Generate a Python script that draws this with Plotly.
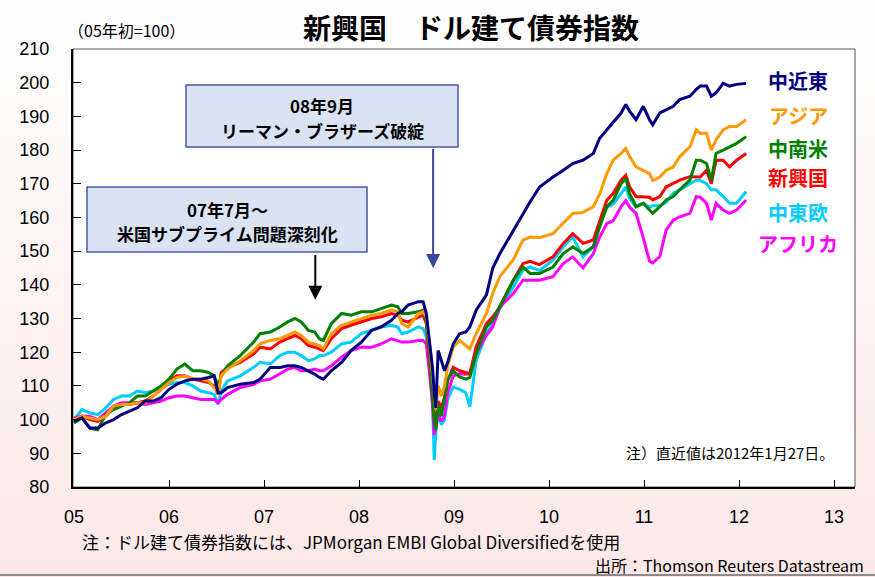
import numpy as np
import plotly.graph_objects as go

# Sample dates, as months elapsed since the start of 2005
MONTHS = [0, 1, 2, 3, 4, 5, 6, 7, 8, 9, 10, 11, 12, 13, 14, 15, 16, 17, 17.7, 18.2,
          18.6, 19.4, 21, 22.7, 23.5, 24.8, 26, 27, 27.9, 28.7, 29.6, 30.4, 31, 31.5,
          32.5, 33.8, 35, 36.3, 37.6, 38.8, 40.1, 40.9, 41.4, 42.2, 43.5, 44.1, 44.5,
          44.9, 45.3, 45.5, 45.7, 46, 46.4, 46.8, 47.2, 47.9, 48.7, 49.5, 50, 50.8,
          52.1, 52.9, 53.8, 55.5, 56.7, 57.6, 58.8, 60.5, 61.8, 63, 64.3, 65.6, 66.4,
          67.3, 68.1, 69.1, 69.7, 70.2, 71, 71.9, 72.7, 73.1, 74, 74.8, 75.7, 76.5,
          77.8, 78.6, 79.1, 79.9, 80.5, 81.1, 82, 82.8, 83.7, 84.9]

MIDDLE_EAST = [99.5, 100.5, 97.5, 97.5, 99, 100, 101.5, 102.5, 103.5, 105.5, 105.5, 106.5,
               109, 110.5, 111.5, 112, 112, 112.5, 113, 108, 108, 109.5, 110.5, 111, 112,
               115.5, 115.5, 116, 116, 115.5, 114.5, 113.5, 112.5, 112, 114.5, 117, 120.5,
               123, 126.5, 127.5, 129.5, 131.5, 132, 134, 135, 135, 131.5, 123, 115, 108,
               103.5, 120.5, 117.5, 114.5, 117, 122.5, 125.5, 126, 127.5, 132.5, 137, 145,
               149.3, 156.2, 161.2, 164.6, 169, 172, 174, 176, 177, 179, 183.5, 186, 188, 191,
               193.5, 191.5, 189, 193, 189, 187.5, 191, 192, 193, 195, 196, 198, 199, 199,
               196, 197, 199.8, 199, 199.5, 199.8]

ASIA = [100, 101, 100.5, 100, 101, 104, 104.5, 104.5, 105, 105, 107, 109, 111, 112.5, 113,
        112, 112, 111.5, 109.5, 108, 113, 115, 117.5, 120.5, 122.5, 123.5, 124, 125, 126,
        125, 123, 122.5, 122, 121, 125.5, 128, 129, 130, 131, 131.5, 132.5, 132, 128.5,
        127.5, 131.5, 132, 130.5, 122.5, 111.5, 106, 103, 110, 107, 110, 116, 121.5, 123.5,
        122, 121, 125.5, 131.5, 137.5, 142.5, 147.5, 153.3, 154.2, 154, 155.2, 158.2, 161.2,
        161.5, 163.2, 167, 173, 177, 179, 180.5, 178, 175, 174, 173, 171, 172, 174, 175,
        178, 181, 186, 185, 185, 180, 183, 186, 187, 187, 189]

LATIN_AMERICA = [99, 100.5, 97.5, 97, 101.5, 103, 104, 105, 107, 107, 108.5, 110, 112, 115,
                 116.5, 114.5, 114.5, 114, 113, 110, 113, 116, 119, 123, 125.5, 126, 127.5,
                 129, 130, 129, 126.5, 126, 124, 123.5, 128.5, 131.5, 131, 132, 132, 133,
                 134, 133.5, 131.5, 131.5, 132, 132.5, 129.5, 120, 107, 100, 97, 104.5, 101,
                 107, 112, 114.5, 112.7, 112, 112.5, 119.6, 127.5, 129.5, 133.5, 141.4, 145.3,
                 143.4, 143.4, 145.3, 149.3, 151.3, 149.3, 151.3, 157.2, 163.2, 165.1, 170,
                 171.5, 167, 163.2, 164.2, 162.2, 161.2, 163.2, 165.2, 166.2, 168.2, 171.1,
                 177, 177, 176, 171, 179, 180, 181, 182, 184]

EMERGING = [100, 101, 100, 99.5, 101, 103.5, 104.5, 104.5, 105, 105.5, 107, 109, 111.5, 113,
            113, 112, 111.5, 111, 110, 107.5, 114, 115.5, 117, 119.5, 121.5, 121, 123, 124,
            125, 124, 122, 121.5, 121, 120.5, 124, 127, 128, 129, 130, 130.5, 131.5, 131,
            129.5, 129, 130.5, 131, 128.5, 118, 106.5, 101, 99, 105.5, 103.5, 106.5, 111.5,
            115.5, 114.5, 114, 113.6, 121.6, 128.5, 130.5, 133.5, 141.4, 146.3, 147, 146,
            148.3, 152.3, 155.2, 152.3, 153.3, 159.2, 165.1, 167.1, 171.1, 172.5, 169, 166.2,
            166, 166, 165.2, 166.2, 169.1, 170.1, 171.1, 172.1, 172, 172, 174, 170, 177, 177,
            175, 177, 179]

CENTRAL_EAST_EUROPE = [100, 103, 102, 101.5, 103.5, 106, 107, 107, 108.5, 108, 108.5, 109.5,
                       110.5, 111, 111, 110, 108.5, 108, 107.5, 104.5, 108.5, 111.5, 113,
                       115.5, 117, 116.5, 119, 120, 120, 119, 117.5, 118, 119, 119, 120,
                       122.5, 123, 125.5, 126.5, 127.5, 128, 127.5, 125.5, 126, 127.5, 127,
                       124.5, 115.5, 104.5, 88, 96, 102.5, 98.5, 100, 106, 109.7, 109, 108,
                       103.8, 117.6, 125.5, 128.5, 133, 139.4, 144.3, 145.3, 144.3, 147.3,
                       151.3, 154.2, 148.3, 151.3, 158, 163, 164, 167.1, 169, 165.5, 163.2,
                       164.2, 163, 163.5, 163.5, 164.5, 167.2, 168.2, 170.1, 171.1, 171, 170,
                       168.2, 168.2, 166.2, 164.2, 164.2, 167.7]

AFRICA = [100.5, 101, 101, 100, 102, 104, 105, 105, 105, 104.5, 105, 105.5, 106.5, 107, 107,
          106.5, 106, 106, 106, 105, 106, 107.5, 109.5, 110.5, 111.5, 112, 113.5, 115, 115.5,
          114.5, 114.5, 115, 114.5, 114.5, 116, 118.5, 120.5, 121.5, 121.5, 122.5, 124,
          123.5, 123, 123, 123.5, 123.5, 122.5, 114.5, 104, 95.5, 97.5, 101.5, 99.5, 101,
          108, 113, 113.6, 113.5, 113.6, 119.6, 125, 127.5, 133.5, 137.4, 141.4, 141.4,
          141.4, 142.4, 146.3, 148.3, 145, 149.3, 154.2, 158.2, 159, 163.2, 165, 163, 161.2,
          154, 147, 146.5, 148.4, 156.3, 159.2, 160.2, 161.2, 166.2, 166, 164.2, 159.2,
          164.2, 162.2, 161.2, 162.2, 165.2]

SERIES_NAMES = ["中近東", "アジア", "中南米", "新興国", "中東欧", "アフリカ"]
SERIES_COLORS = ["#000080", "#ff9900", "#008000", "#ff0000", "#00ccff", "#ff00ff"]
SERIES_VALUES = [MIDDLE_EAST, ASIA, LATIN_AMERICA, EMERGING, CENTRAL_EAST_EUROPE, AFRICA]

YEAR_TICKS = [5, 6, 7, 8, 9, 10, 11, 12, 13]
YEAR_LABELS = ["05", "06", "07", "08", "09", "10", "11", "12", "13"]
Y_TICKS = list(range(80, 211, 10))

JP = "Noto Sans CJK JP"
PLOT_L, PLOT_T, PLOT_W, PLOT_H = 73, 49, 782, 438   # plot frame in page pixels


def px(xp):
    """page x pixel -> paper fraction"""
    return (xp - PLOT_L) / PLOT_W


def py(yp):
    """page y pixel -> paper fraction"""
    return (PLOT_T + PLOT_H - yp) / PLOT_H


x_years = 5 + np.array(MONTHS) / 12.0

fig = go.Figure()

# drawing order: lines further back first
draw_order = [4, 5, 3, 2, 1, 0]
for i in draw_order:
    fig.add_trace(go.Scatter(
        x=x_years, y=SERIES_VALUES[i], mode="lines", name=SERIES_NAMES[i],
        line=dict(color=SERIES_COLORS[i], width=3), showlegend=False,
        hoverinfo="skip"))

shapes = []
# soft white-to-pink page background
n_bands = 30
top_c = np.array([255, 255, 255])
bot_c = np.array([252, 232, 232])
y_lo, y_hi = py(577), py(0)
for k in range(n_bands):
    f = (k + 0.5) / n_bands
    c = (top_c * (1 - f) + bot_c * f).astype(int)
    y1 = y_hi - (y_hi - y_lo) * k / n_bands
    y0 = y_hi - (y_hi - y_lo) * (k + 1) / n_bands
    shapes.append(dict(type="rect", xref="paper", yref="paper",
                       x0=-0.1, x1=1.1, y0=y0 - 0.002, y1=y1 + 0.002,
                       fillcolor="rgb(%d,%d,%d)" % tuple(c), line=dict(width=0),
                       layer="below"))
# white plotting area with a thin frame
shapes.append(dict(type="rect", xref="paper", yref="paper", x0=0, x1=1, y0=0, y1=1,
                   fillcolor="white", line=dict(color="#555555", width=1), layer="below"))
# rule along the foot of the page
shapes.append(dict(type="line", xref="paper", yref="paper", x0=-0.1, x1=1.1,
                   y0=py(575), y1=py(575), line=dict(color="#8a8a8a", width=2)))

# call-out boxes
for (bx0, by0, bx1, by1) in [(87, 187, 367, 252), (186, 85, 458, 147)]:
    shapes.append(dict(type="rect", xref="paper", yref="paper",
                       x0=px(bx0), x1=px(bx1), y0=py(by1), y1=py(by0),
                       fillcolor="#dae3f3", line=dict(color="#4a5aa8", width=1.5),
                       layer="above"))

annotations = []
annotations.append(dict(text="<b>新興国　ドル建て債券指数</b>", xref="paper", yref="paper",
                        x=px(471), y=py(27), xanchor="center", yanchor="middle",
                        showarrow=False, font=dict(family=JP, size=28, color="black")))
annotations.append(dict(text="（05年初=100）", xref="paper", yref="paper",
                        x=px(66), y=py(30), xanchor="left", yanchor="middle",
                        showarrow=False, font=dict(family=JP, size=16, color="black")))

# series labels at the right of the plot
label_y = [80.7, 115, 148, 178, 212, 243]
for name, color, yp in zip(SERIES_NAMES, SERIES_COLORS, label_y):
    annotations.append(dict(text="<b>%s</b>" % name, xref="paper", yref="paper",
                            x=px(798), y=py(yp),
                            xanchor="center", yanchor="middle", showarrow=False,
                            font=dict(family=JP, size=20, color=color)))

annotations.append(dict(text="注）直近値は2012年1月27日。", xref="paper", yref="paper",
                        x=px(836), y=py(452), xanchor="right",
                        yanchor="middle", showarrow=False,
                        font=dict(family=JP, size=15, color="black")))
annotations.append(dict(text="注：ドル建て債券指数には、JPMorgan EMBI Global Diversifiedを使用",
                        xref="paper", yref="paper", x=px(80), y=py(541),
                        xanchor="left", yanchor="middle", showarrow=False,
                        font=dict(family=JP, size=17, color="black")))
annotations.append(dict(text="出所：Thomson Reuters Datastream",
                        xref="paper", yref="paper", x=px(866), y=py(565),
                        xanchor="right", yanchor="middle", showarrow=False,
                        font=dict(family=JP, size=16, color="black")))

# call-out texts, one line each
callout_lines = [("07年7月～", 227, 210), ("米国サブプライム問題深刻化", 227, 234),
                 ("08年9月", 322, 106), ("リーマン・ブラザーズ破綻", 322, 130)]
for txt, cx, cy in callout_lines:
    annotations.append(dict(text="<b>%s</b>" % txt, xref="paper", yref="paper",
                            x=px(cx), y=py(cy), xanchor="center", yanchor="middle",
                            showarrow=False, font=dict(family=JP, size=17, color="black")))

annotations.append(dict(text="", x=7.54, y=135.6, ax=7.54, ay=149.3, xref="x", yref="y",
                        axref="x", ayref="y", showarrow=True, arrowhead=2, arrowsize=1.4,
                        arrowwidth=2, arrowcolor="black"))
annotations.append(dict(text="", x=8.78, y=145, ax=8.78, ay=180.8, xref="x", yref="y",
                        axref="x", ayref="y", showarrow=True, arrowhead=2, arrowsize=1.4,
                        arrowwidth=2, arrowcolor="#3a46a0"))

fig.update_layout(
    width=875, height=577,
    margin=dict(l=PLOT_L, r=875 - PLOT_L - PLOT_W, t=PLOT_T, b=577 - PLOT_T - PLOT_H),
    paper_bgcolor="white", plot_bgcolor="rgba(0,0,0,0)",
    shapes=shapes, annotations=annotations,
    font=dict(family="Liberation Sans, Arial", color="black"),
    xaxis=dict(range=[5 - 1 / 95, 13 + 21 / 95], tickvals=YEAR_TICKS, ticktext=YEAR_LABELS,
               showgrid=False, zeroline=False, showline=True, linecolor="black", linewidth=2,
               ticks="inside", ticklen=7, tickwidth=1, tickcolor="black",
               tickfont=dict(family="Liberation Sans, Arial", size=18, color="black"),
               ticklabelstandoff=12),
    yaxis=dict(range=[80, 210], tickvals=Y_TICKS, showgrid=False, zeroline=False,
               showline=True, linecolor="black", linewidth=2,
               ticks="inside", ticklen=8, tickwidth=1, tickcolor="black",
               tickfont=dict(family="Liberation Sans, Arial", size=18, color="black"),
               ticklabelstandoff=18),
)

fig.write_html("out.html")
